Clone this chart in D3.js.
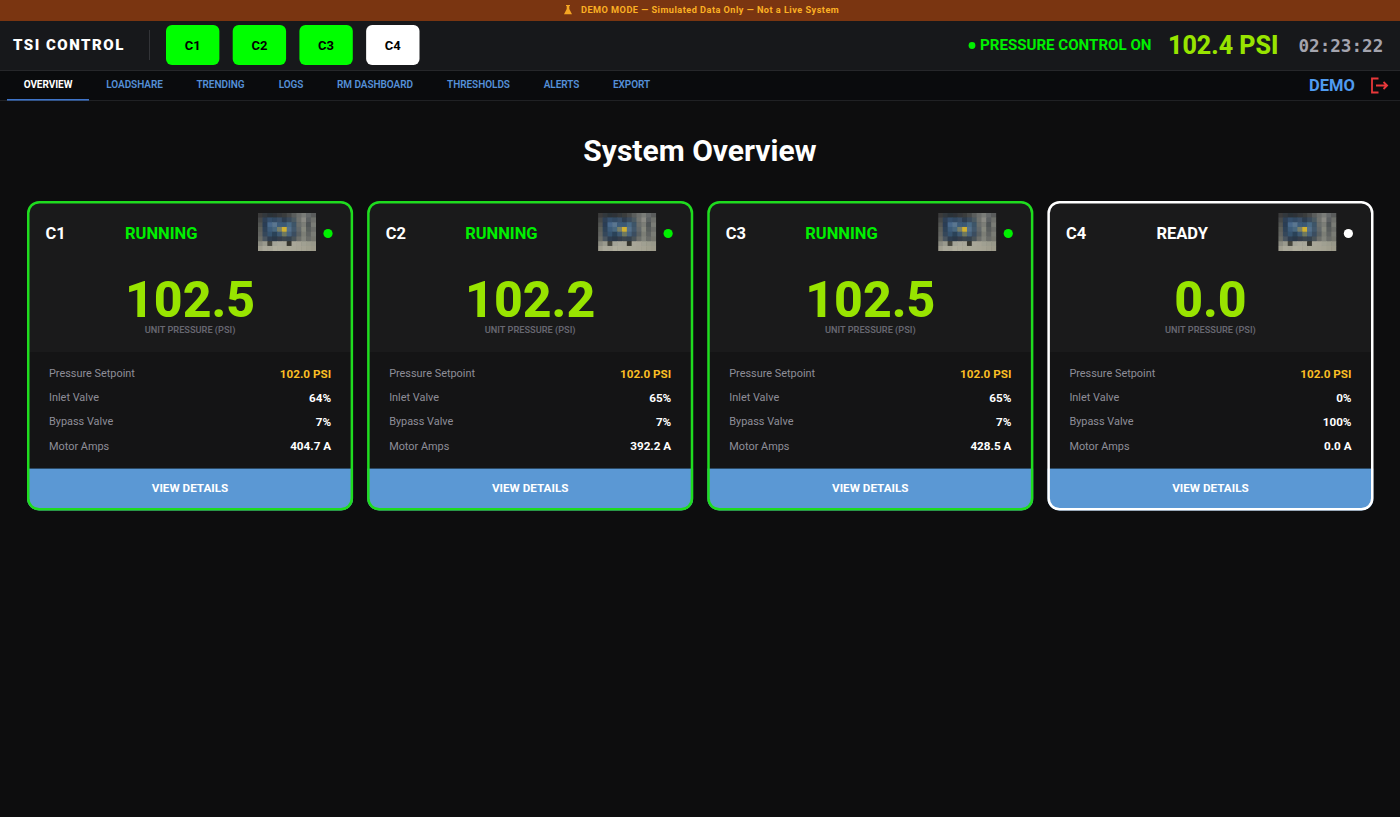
<!DOCTYPE html>
<html><head><meta charset="utf-8">
<script src="https://cdn.jsdelivr.net/npm/d3@7"></script>
<style>html,body{margin:0;padding:0;background:#0d0d0e;overflow:hidden}svg{display:block}text{font-family:Roboto,sans-serif}</style>
</head><body><svg id="c" width="1400" height="817"></svg>
<script>
const units=["C1","C2","C3","C4"];
const statuses=["RUNNING","RUNNING","RUNNING","READY"];
const pressures=["102.5","102.2","102.5","0.0"];
const setpoints=["102.0 PSI","102.0 PSI","102.0 PSI","102.0 PSI"];
const inlet=["64%","65%","65%","0%"];
const bypass=["7%","7%","7%","100%"];
const amps=["404.7 A","392.2 A","428.5 A","0.0 A"];
const rowLabels=["Pressure Setpoint","Inlet Valve","Bypass Valve","Motor Amps"];
const navItems=["OVERVIEW","LOADSHARE","TRENDING","LOGS","RM DASHBOARD","THRESHOLDS","ALERTS","EXPORT"];
const navX=[48,134.5,220.5,291,375,478.5,561.5,631.5];
const thumbColors=[
 ["#3a3b3a","#33373c","#2c3238","#2e3338","#34383b","#3a3c3c","#46494a","#5a5d5c","#6c6e6c","#7a7c78","#66696a","#5a5c5c"],
 ["#46484a","#2e4056","#36506c","#304a64","#3a5068","#2e3e50","#3a4c5c","#4c5a62","#70726e","#8a8a84","#5c6062","#6e706c"],
 ["#525452","#2a3e54","#48688a","#5a7690","#3c5a78","#3a5874","#4a6a84","#3e5468","#6a6e6c","#7c7e78","#505456","#7a7c76"],
 ["#5c5e5a","#2e4258","#3e5c7a","#4a6880","#7a8068","#d0b030","#54708a","#42586c","#62686a","#86887e","#585c5c","#6c6e6a"],
 ["#626460","#34465a","#36526e","#2c4258","#3e5870","#6e7860","#46627c","#3a4e60","#5a6062","#7c7e76","#606462","#7a7c74"],
 ["#6a6c66","#4a5460","#2e3e50","#2a3848","#343e4a","#3a444e","#36424e","#4a5258","#6c6e6a","#82847c","#6a6c68","#74766e"],
 ["#8c8c82","#9a9a8e","#44443e","#a4a498","#aaa99c","#a8a79a","#34342e","#a8a698","#a6a496","#a0a092","#9c9c8e","#98988a"],
 ["#a09e90","#aaa89a","#a8a698","#b0ae9e","#aeac9c","#acaa9a","#aaa898","#a8a696","#a6a494","#a4a292","#a09e8e","#9c9a8a"]
];
const GREEN="#00f000",LIME="#98e400",BLUE="#5b98d4";
const svg=d3.select("#c");
function T(p,x,y,s,size,fill,weight,anchor,extra){
  const t=p.append("text").attr("x",x).attr("y",y).text(s).attr("font-size",size).attr("fill",fill)
    .attr("font-weight",weight||400).attr("text-anchor",anchor||"start");
  if(extra)Object.entries(extra).forEach(([k,v])=>t.attr(k,v));
  return t;
}
function R(p,x,y,w,h,fill,r){return p.append("rect").attr("x",x).attr("y",y).attr("width",w).attr("height",h).attr("fill",fill).attr("rx",r||0);}
R(svg,0,0,1400,817,"#0d0d0e");
// banner
R(svg,0,0,1400,21,"#7a3511");
svg.append("path").attr("d","M566 5h4v1h-.7v3l2.7 5.2h-8l2.7-5.2v-3H566z").attr("fill","#f5a623");
T(svg,581,13,"DEMO MODE — Simulated Data Only — Not a Live System",9.2,"#fbb024",700,"start",{"letter-spacing":"0.46"});
// header
R(svg,0,21,1400,49,"#17181b");
R(svg,0,70,1400,1,"#26272a");
T(svg,13,50,"TSI CONTROL",15,"#fff",900,"start",{"letter-spacing":"1.5"});
R(svg,149,30,1,30,"#333438");
const pill=d3.scaleBand().domain(units).range([166,419.5]).paddingInner(0.2);
units.forEach((u,i)=>{
  const on=statuses[i]==="RUNNING";
  R(svg,pill(u),25,pill.bandwidth(),40,on?"#00ff00":"#fff",6);
  T(svg,pill(u)+pill.bandwidth()/2,50,u,13,"#000",700,"middle");
});
svg.append("circle").attr("cx",972).attr("cy",45.5).attr("r",3.4).attr("fill",GREEN);
T(svg,980,50,"PRESSURE CONTROL ON",15.1,GREEN,700);
T(svg,1168,54,"102.4 PSI",25,LIME,800);
T(svg,1298.5,52,"02:23:22",17.6,"#a4a4ae",700,"start",{style:"font-family:'DejaVu Sans Mono',monospace"});
// nav
R(svg,0,71,1400,29,"#0a0b0d");
R(svg,0,100,1400,1,"#202124");
navItems.forEach((n,i)=>T(svg,navX[i],88,n,10,i===0?"#fff":"#5590d8",i===0?700:600,"middle",{"letter-spacing":"-0.05"}));
R(svg,7,99,82,1.6,"#3f74c8");
T(svg,1309,91,"DEMO",16.5,"#4f9bf0",700);
svg.append("path").attr("d","M1378.5 78.5h-6.5v14h6.5M1376 85.5h11M1383.5 82l3.6 3.5-3.6 3.5").attr("fill","none").attr("stroke","#e8383a").attr("stroke-width",1.8);
// title
T(svg,700,161,"System Overview",30,"#fff",700,"middle");
// cards
const cx=d3.scaleBand().domain(units).range([27,1373.5]).paddingInner(14/340);
const H=309.5,Y=201;
const defs=svg.append("defs");
defs.append("filter").attr("id","soft").append("feGaussianBlur").attr("stdDeviation",0.5);
units.forEach((u,i)=>{
  const x=cx(u),W=cx.bandwidth(),on=statuses[i]==="RUNNING";
  const border=on?"#1fdc1f":"#ffffff",sc=on?GREEN:"#fff";
  const g=svg.append("g").attr("transform",`translate(${x},${Y})`);
  const id="clip"+i;
  defs.append("clipPath").attr("id",id).append("rect").attr("width",W).attr("height",H).attr("rx",12);
  const inner=g.append("g").attr("clip-path",`url(#${id})`);
  R(inner,0,0,W,H,"#1a1a1b");
  R(inner,0,151,W,117,"#141415");
  R(inner,0,267,W,1,"#2a4a66");
  R(inner,0,268,W,42,BLUE);
  g.append("rect").attr("x",1.25).attr("y",1.25).attr("width",W-2.5).attr("height",H-2.5).attr("rx",11).attr("fill","none").attr("stroke",border).attr("stroke-width",2.5);
  T(g,18.5,37.5,u,16.5,"#fff",700);
  T(g,on?98:109,37.5,statuses[i],16.5,sc,700);
  // thumbnail: hand-read colour grid
  const cid="tclip"+i;
  defs.append("clipPath").attr("id",cid).append("rect").attr("width",58).attr("height",38);
  const th=g.append("g").attr("transform","translate(231,12)").attr("clip-path",`url(#${cid})`).append("g").attr("filter","url(#soft)");
  const tx=d3.scaleBand().domain(d3.range(12)).range([0,58]);
  const ty=d3.scaleBand().domain(d3.range(8)).range([0,38]);
  thumbColors.forEach((row,r)=>row.forEach((c,k)=>R(th,tx(k)-.3,ty(r)-.3,tx.bandwidth()+.6,ty.bandwidth()+.6,c)));
  g.append("circle").attr("cx",301).attr("cy",32.5).attr("r",4.6).attr("fill",sc);
  T(g,W/2,116,pressures[i],50,LIME,800,"middle");
  T(g,W/2,132,"UNIT PRESSURE (PSI)",9.2,"#666670",600,"middle");
  const vals=[setpoints[i],inlet[i],bypass[i],amps[i]];
  rowLabels.forEach((l,j)=>{
    const y=176+j*24.2;
    T(g,22,y,l,10.9,"#8e8e98",400);
    T(g,W-22,y+.5,vals[j],11.7,j===0?"#fbbf24":"#fff",700,"end");
  });
  T(g,W/2,291,"VIEW DETAILS",11.7,"#fff",700,"middle");
});
</script></body></html>
